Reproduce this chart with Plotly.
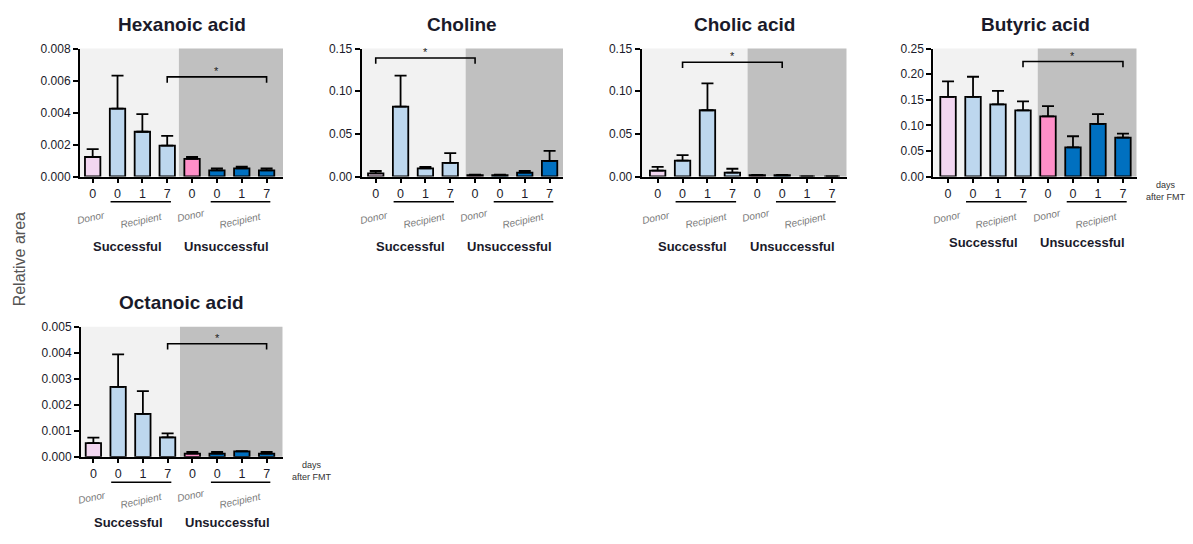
import plotly.graph_objects as go

W, H = 1193, 544

# ---------------- data ----------------
categories = ["S-Donor-0", "S-Recipient-0", "S-Recipient-1", "S-Recipient-7",
              "U-Donor-0", "U-Recipient-0", "U-Recipient-1", "U-Recipient-7"]
day_labels = ["0", "0", "1", "7", "0", "0", "1", "7"]
group_labels = ["Successful", "Unsuccessful"]
role_labels = ["Donor", "Recipient", "Donor", "Recipient"]

titles = ["Hexanoic acid", "Choline", "Cholic acid", "Butyric acid", "Octanoic acid"]

hexanoic_mean = [0.00122, 0.00424, 0.00280, 0.00193, 0.00110, 0.00039, 0.00051, 0.00039]
hexanoic_sem = [0.00049, 0.00207, 0.00110, 0.00061, 0.00012, 0.00012, 0.00010, 0.00012]
choline_mean = [0.0038, 0.0819, 0.0095, 0.0160, 0.0015, 0.0015, 0.0046, 0.0183]
choline_sem = [0.0027, 0.0365, 0.0019, 0.0114, 0.0008, 0.0008, 0.0019, 0.0117]
cholic_mean = [0.0069, 0.0187, 0.0777, 0.0046, 0.0015, 0.0015, 0.0, 0.0]
cholic_sem = [0.0045, 0.0064, 0.0316, 0.0045, 0.0004, 0.0004, 0.0, 0.0]
butyric_mean = [0.1555, 0.1555, 0.1410, 0.1294, 0.1174, 0.0571, 0.1028, 0.0761]
butyric_sem = [0.0305, 0.0395, 0.0265, 0.0176, 0.0203, 0.0216, 0.0190, 0.0077]
octanoic_mean = [0.000525, 0.00269, 0.00165, 0.00075, 0.000125, 0.000125, 0.00021, 0.000125]
octanoic_sem = [0.000215, 0.00125, 0.00088, 0.00015, 0.000065, 0.000065, 0.00001, 0.000065]

means = [hexanoic_mean, choline_mean, cholic_mean, butyric_mean, octanoic_mean]
sems = [hexanoic_sem, choline_sem, cholic_sem, butyric_sem, octanoic_sem]

# significance brackets (category index from, to, height)
sig_from = [3, 0, 1, 3, 3]
sig_to = [7, 4, 5, 7, 7]
sig_y = [0.00623, 0.139, 0.134, 0.2247, 0.00435]

y_top = [0.008, 0.15, 0.15, 0.25, 0.005]
y_dtick = [0.002, 0.05, 0.05, 0.05, 0.001]
y_fmt = [".3f", ".2f", ".2f", ".2f", ".3f"]

# ---------------- style / layout ----------------
bar_colors = ["#F2D6F0", "#BDD7EE", "#BDD7EE", "#BDD7EE",
              "#FF8FC8", "#0070C0", "#0070C0", "#0070C0"]
light_bg = "#F2F2F2"
dark_bg = "#C0C0C0"
FONT = "Liberation Sans, Arial, sans-serif"

# panel pixel boxes: (left, right, top, bottom)
boxes = [(80, 283, 42.7, 174), (361.7, 563, 42.7, 174), (641.7, 846.7, 42.7, 174),
         (933.3, 1136.7, 42.7, 174), (81, 282.7, 328.3, 461.7)]
x_ranges = [(-0.51, 7.66), (-0.565, 7.54), (-0.64, 7.59), (-0.59, 7.55), (-0.50, 7.65)]
dark_start = [3.47, 3.62, 3.61, 3.59, 3.5]


def px(x):
    return x / W


def py(y):
    return 1 - y / H


fig = go.Figure()
shapes = []
annotations = []
xpos = list(range(len(categories)))

for i in range(5):
    n = "" if i == 0 else str(i + 1)
    xa, ya = "x" + n, "y" + n
    l, r, t, b = boxes[i]

    fig.add_trace(go.Bar(
        x=xpos, y=means[i], xaxis=xa, yaxis=ya,
        width=0.62,
        marker=dict(color=bar_colors, line=dict(color="black", width=1.8)),
        error_y=dict(type="data", symmetric=False, array=sems[i],
                     arrayminus=[0] * len(sems[i]),
                     color="black", thickness=1.8, width=6),
        showlegend=False, hoverinfo="skip",
    ))

    fig.layout["xaxis" + n] = dict(
        domain=[px(l), px(r)], anchor=ya, range=list(x_ranges[i]),
        tickvals=xpos, ticktext=day_labels, ticks="outside", ticklen=4,
        tickwidth=1.5, tickcolor="black",
        showline=True, linecolor="black", linewidth=2, showgrid=False,
        zeroline=False, fixedrange=True,
        tickfont=dict(family=FONT, size=12.5, color="#1a1a2a"),
    )
    fig.layout["yaxis" + n] = dict(
        domain=[py(b), py(t)], anchor=xa, range=[0, y_top[i]],
        dtick=y_dtick[i], tickformat=y_fmt[i], ticks="outside", ticklen=5,
        tickwidth=1.5, tickcolor="black",
        showline=True, linecolor="black", linewidth=2, showgrid=False,
        zeroline=False, fixedrange=True,
        tickfont=dict(family=FONT, size=12, color="#1a1a2a"),
    )

    # shaded backgrounds
    shapes.append(dict(type="rect", xref=xa, yref=ya + " domain",
                       x0=x_ranges[i][0], x1=dark_start[i], y0=0, y1=1,
                       fillcolor=light_bg, line=dict(width=0), layer="below"))
    shapes.append(dict(type="rect", xref=xa, yref=ya + " domain",
                       x0=dark_start[i], x1=x_ranges[i][1], y0=0, y1=1,
                       fillcolor=dark_bg, line=dict(width=0), layer="below"))

    # significance bracket
    drop = y_top[i] * 0.045
    x0s, x1s, yy = sig_from[i], sig_to[i], sig_y[i]
    shapes.append(dict(type="path", xref=xa, yref=ya,
                       path=f"M {x0s},{yy - drop} L {x0s},{yy} L {x1s},{yy} L {x1s},{yy - drop}",
                       line=dict(color="black", width=1.6)))
    annotations.append(dict(x=(x0s + x1s) / 2, y=yy, xref=xa, yref=ya,
                            text="*", showarrow=False, yanchor="bottom", yshift=-2,
                            font=dict(family=FONT, size=11, color="#222")))

    # title
    annotations.append(dict(x=px((l + r) / 2), y=py(t - 25), xref="paper", yref="paper",
                            text="<b>" + titles[i] + "</b>", showarrow=False,
                            xanchor="center", yanchor="middle",
                            font=dict(family=FONT, size=19, color="#1a1a2a")))

    # recipient underlines
    for (a0, a1) in [(0.72, 3.15), (4.75, 7.15)]:
        shapes.append(dict(type="line", xref=xa, yref="paper",
                           x0=a0, x1=a1, y0=py(b + 26), y1=py(b + 26),
                           line=dict(color="black", width=1.5)))

    # donor / recipient labels
    for xv, dy, lab in [(0, 42, role_labels[0]), (2, 45, role_labels[1]),
                        (4, 40, role_labels[2]), (6, 45, role_labels[3])]:
        annotations.append(dict(x=xv - 0.05, y=py(b + dy), xref=xa, yref="paper",
                                text="<i>" + lab + "</i>", showarrow=False,
                                textangle=-12, xanchor="center", yanchor="middle",
                                font=dict(family=FONT, size=10, color="#7a7a7a")))

    # group labels
    gy = b + 72 if i != 3 else b + 68
    if i == 4:
        gy = b + 67
    for xv, lab in [(1.4, group_labels[0]), (5.4, group_labels[1])]:
        annotations.append(dict(x=xv, y=py(gy), xref=xa, yref="paper",
                                text="<b>" + lab + "</b>", showarrow=False,
                                xanchor="center", yanchor="middle",
                                font=dict(family=FONT, size=13, color="#1a1a2a")))

    # days after FMT
    if i in (3, 4):
        annotations.append(dict(x=px(r + 29), y=py(b + 15), xref="paper", yref="paper",
                                text="days<br>after FMT", showarrow=False,
                                xanchor="center", yanchor="middle", align="center",
                                font=dict(family=FONT, size=9, color="#333")))

# global y title
annotations.append(dict(x=px(19), y=py(259), xref="paper", yref="paper",
                        text="Relative area", showarrow=False, textangle=-90,
                        xanchor="center", yanchor="middle",
                        font=dict(family=FONT, size=16, color="#555")))

fig.update_layout(
    width=W, height=H, margin=dict(l=0, r=0, t=0, b=0),
    paper_bgcolor="white", plot_bgcolor="rgba(0,0,0,0)",
    shapes=shapes, annotations=annotations, bargap=0.3,
)

fig.write_html("out.html", config={"displayModeBar": False},
               post_script="document.body.style.margin='0';document.body.style.overflow='hidden';")
